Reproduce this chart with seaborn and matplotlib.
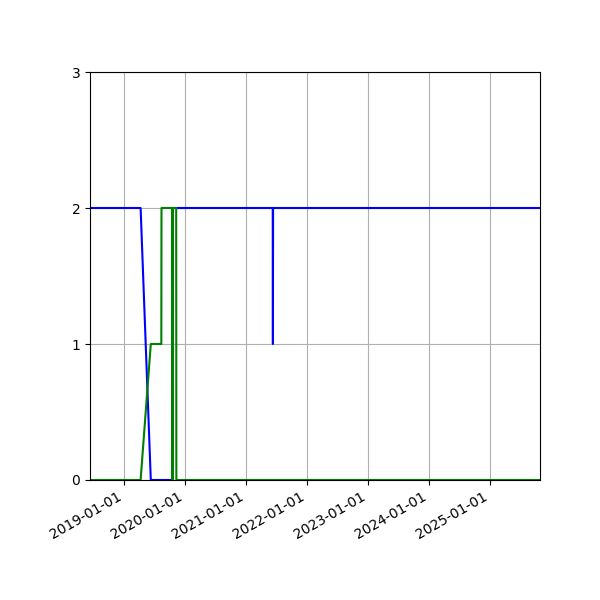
import matplotlib
matplotlib.use("Agg")
import matplotlib.pyplot as plt
import matplotlib.dates as mdates
import pandas as pd
import seaborn as sns

blue_dates = ["2018-06-12", "2019-04-11", "2019-06-11", "2019-10-16", "2019-10-17",
              "2021-06-10", "2021-06-11", "2021-06-12", "2025-10-27"]
blue_values = [2, 2, 0, 0, 2, 2, 1, 2, 2]

green_dates = ["2018-06-12", "2019-04-11", "2019-06-11", "2019-08-13", "2019-08-14",
               "2019-10-18", "2019-10-19", "2019-10-20", "2019-11-10", "2019-11-11",
               "2025-10-27"]
green_values = [0, 0, 1, 1, 2, 2, 0, 2, 2, 0, 0]

y_ticks = [0, 1, 2, 3]

blue_df = pd.DataFrame({"date": pd.to_datetime(blue_dates), "value": blue_values})
green_df = pd.DataFrame({"date": pd.to_datetime(green_dates), "value": green_values})

fig, ax = plt.subplots(figsize=(6, 6), dpi=100)
sns.lineplot(data=blue_df, x="date", y="value", color="blue", estimator=None,
             sort=False, ax=ax, linewidth=1.5)
sns.lineplot(data=green_df, x="date", y="value", color="green", estimator=None,
             sort=False, ax=ax, linewidth=1.5)

ax.set_xlim(blue_df["date"].min(), blue_df["date"].max())
ax.set_ylim(0, 3)
ax.set_yticks(y_ticks)
ax.xaxis.set_major_locator(mdates.YearLocator())
ax.xaxis.set_major_formatter(mdates.DateFormatter("%Y-%m-%d"))
ax.grid(True)
ax.set_xlabel("")
ax.set_ylabel("")
fig.autofmt_xdate()
fig.subplots_adjust(left=0.15, right=0.9, top=0.88, bottom=0.2)
fig.savefig("out.png", dpi=100)
